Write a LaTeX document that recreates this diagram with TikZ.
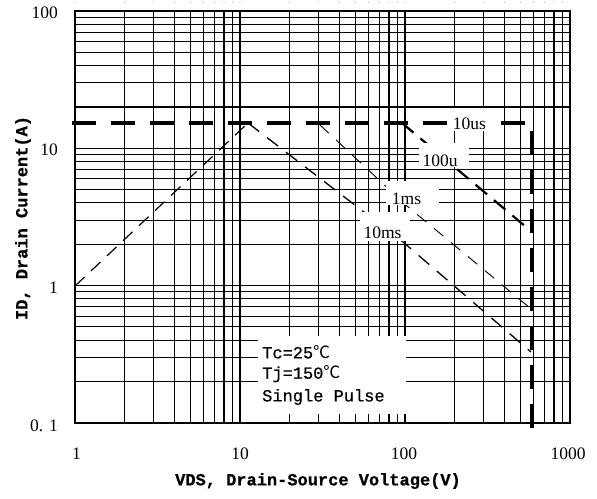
\documentclass[tikz,border=0pt]{standalone}
\usepackage{fontspec}
\setmainfont{Liberation Mono}[FakeBold=0.6]
\newfontfamily\serifnum{Liberation Serif}
\newfontfamily\cjk{Noto Sans CJK SC}
\begin{document}
\begin{tikzpicture}[x=1pt,y=-1pt,
  gridline/.style={line width=1.05pt,black},
  framebox/.style={line width=1.4pt,black},
  tick/.style={font=\serifnum\fontsize{17.5}{19}\selectfont,inner sep=0pt},
  curvelbl/.style={font=\serifnum\fontsize{17.5}{19}\selectfont,inner sep=0pt},
  cond/.style={font=\fontsize{17}{19}\selectfont,inner sep=0pt,anchor=west},
  axtitle/.style={font=\fontsize{17}{19}\selectfont\bfseries,inner sep=0pt},
  mask/.style={fill=white,draw=none},
  soa10us/.style={line width=4pt,dash pattern=on 24pt off 15pt},
  soa100u/.style={line width=2.2pt,dash pattern=on 15pt off 9pt},
  soa1ms/.style={line width=0.9pt,dash pattern=on 12pt off 10pt},
  soa10ms/.style={line width=1.3pt,dash pattern=on 14pt off 10pt},
  rdson/.style={line width=1.2pt,dash pattern=on 13pt off 9pt}]
\useasboundingbox (0,0) rectangle (597,498);
\fill[white] (0,0) rectangle (597,498);
% grid
\foreach \d in {0,1,2}{\foreach \k in {1,...,9}{
  \pgfmathsetmacro\xx{75+165*\d+71.6586*ln(\k)}
  \draw[gridline] (\xx,11) -- (\xx,423);
  \fill[gray!60] (\xx,2) circle (0.7);
}}
\draw[gridline] (570,11) -- (570,423);
\foreach \d in {0,1,2}{\foreach \k in {1,...,9}{
  \pgfmathsetmacro\yy{422.9-137.3*\d-59.6286*ln(\k)}
  \draw[gridline] (75,\yy) -- (570,\yy);
}}
\draw[framebox] (75,11) rectangle (570,423);
% coordinates
\coordinate (s1) at (75,286);
\coordinate (peak) at (248,123);
\coordinate (h0) at (72,123);
\coordinate (hc) at (532,123);
\coordinate (hv) at (532,430);
\coordinate (u0) at (402,123);
\coordinate (u1) at (532,232);
\coordinate (m0) at (320,125);
\coordinate (m1) at (407,206);
\coordinate (m2) at (530,308);
\coordinate (t1) at (403,242);
\coordinate (t2) at (531,352);
% curves
\draw[rdson] (s1) -- (peak);
\draw[soa10ms] (peak) -- (t1) -- (t2);
\draw[soa1ms] (m0) -- (m1) -- (m2);
\draw[soa100u] (u0) -- (u1);
\draw[soa10us] (h0) -- (hc) -- (hv);
% label masks
\fill[mask] (447,108) rectangle (497,131);
\fill[mask] (419,143) rectangle (469,167);
\fill[mask] (386,181) rectangle (439,205);
\fill[mask] (360,212) rectangle (410,241);
\fill[mask] (258,336) rectangle (406,414);
% curve labels
\node[curvelbl] (l10us) at (469.5,124) {10us};
\node[curvelbl] (l100u) at (440,161) {100u};
\node[curvelbl] (l1ms) at (406.5,199) {1ms};
\node[curvelbl] (l10ms) at (382.5,233) {10ms};
% conditions
\node[cond] (c1) at (262,352) {Tc=25{\cjk ℃}};
\node[cond] (c2) at (262,374) {Tj=150{\cjk ℃}};
\node[cond] (c3) at (262,397) {Single Pulse};
% tick labels
\node[tick,anchor=east] (y100) at (58,13) {100};
\node[tick,anchor=east] (y10) at (58,150) {10};
\node[tick,anchor=east] (y1) at (58,288) {1};
\node[tick,anchor=east] (y01) at (58,426) {0. 1};
\node[tick] (x1) at (76.5,454) {1};
\node[tick] (x10) at (240,454) {10};
\node[tick] (x100) at (404,454) {100};
\node[tick] (x1000) at (568,454) {1000};
% axis titles
\node[axtitle,rotate=90] (ytitle) at (23,218) {ID, Drain Current(A)};
\node[axtitle] (xtitle) at (318,481) {VDS, Drain-Source Voltage(V)};
\end{tikzpicture}
\end{document}
